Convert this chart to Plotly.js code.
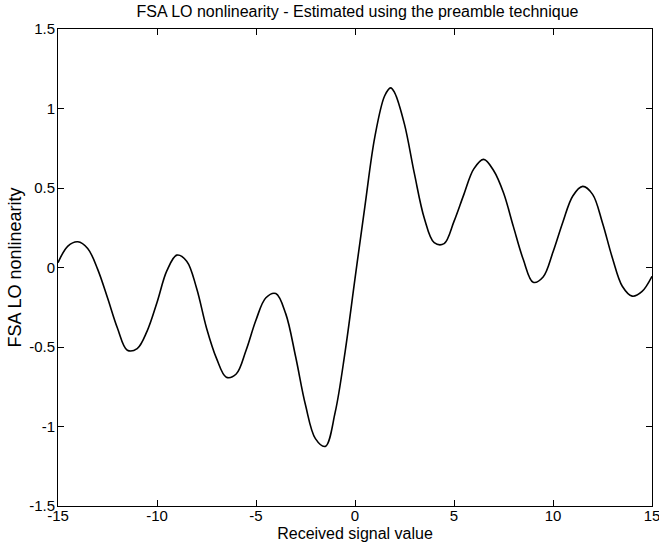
<!DOCTYPE html>
<html>
<head>
<meta charset="utf-8">
<script src="https://cdn.plot.ly/plotly-3.0.1.min.js"></script>
<style>html,body{margin:0;padding:0;background:#fff;}#chart{width:659px;height:548px;}</style>
</head>
<body>
<div id="chart"></div>
<script>
const signalValue = [-15, -14.5, -14, -13.5, -13, -12.5, -12, -11.5, -11, -10.5, -10, -9.5, -9, -8.5, -8, -7.5, -7, -6.5, -6, -5.5, -5, -4.5, -4, -3.5, -3, -2.5, -2, -1.5, -1, -0.5, 0, 0.5, 1, 1.5, 1.8, 2, 2.5, 3, 3.5, 4, 4.5, 5, 5.5, 6, 6.5, 7, 7.5, 8, 8.5, 9, 9.5, 10, 10.5, 11, 11.5, 12, 12.5, 13, 13.5, 14, 14.5, 15];
const nonlinearity = [0.03, 0.135, 0.162, 0.12, -0.01, -0.19, -0.38, -0.52, -0.51, -0.40, -0.22, -0.02, 0.078, 0.04, -0.13, -0.38, -0.57, -0.69, -0.67, -0.52, -0.33, -0.19, -0.164, -0.29, -0.56, -0.865, -1.076, -1.125, -0.91, -0.53, -0.07, 0.385, 0.82, 1.08, 1.13, 1.10, 0.90, 0.59, 0.31, 0.156, 0.15, 0.29, 0.46, 0.62, 0.68, 0.61, 0.47, 0.257, 0.05, -0.093, -0.06, 0.097, 0.286, 0.45, 0.51, 0.46, 0.28, 0.06, -0.118, -0.18, -0.15, -0.055];
const xTickVals = [-15, -10, -5, 0, 5, 10, 15];
const xTickText = ["-15", "-10", "-5", "0", "5", "10", "15"];
const yTickVals = [-1.5, -1, -0.5, 0, 0.5, 1, 1.5];
const yTickText = ["-1.5", "-1", "-0.5", "0", "0.5", "1", "1.5"];

const fam = "Liberation Sans, Arial, Helvetica, sans-serif";

Plotly.newPlot("chart", [{
  x: signalValue,
  y: nonlinearity,
  type: "scatter",
  mode: "lines",
  line: {color: "#000", width: 1.6, shape: "spline", smoothing: 1},
  hoverinfo: "skip"
}], {
  width: 659,
  height: 548,
  margin: {l: 58, r: 7, t: 29, b: 42},
  paper_bgcolor: "#fff",
  plot_bgcolor: "#fff",
  showlegend: false,
  font: {family: fam, size: 15, color: "#000"},
  title: {text: "FSA LO nonlinearity - Estimated using the preamble technique", font: {family: fam, size: 16, color: "#000"}, x: 0.5425, xanchor: "center", y: 0.979, yanchor: "middle"},
  xaxis: {
    range: [-15, 15],
    tickvals: xTickVals, ticktext: xTickText,
    ticks: "inside", ticklen: 6, tickcolor: "#000", tickwidth: 1,
    showline: true, linecolor: "#000", linewidth: 1, mirror: "ticks",
    showgrid: false, zeroline: false,
    ticklabeloverflow: "allow",
    ticklabelstandoff: -4,
    tickfont: {family: fam, size: 15, color: "#000"},
    title: {text: "Received signal value", font: {family: fam, size: 16, color: "#000"}, standoff: 4}
  },
  yaxis: {
    range: [-1.5, 1.5],
    tickvals: yTickVals, ticktext: yTickText,
    ticks: "inside", ticklen: 6, tickcolor: "#000", tickwidth: 1,
    showline: true, linecolor: "#000", linewidth: 1, mirror: "ticks",
    showgrid: false, zeroline: false,
    ticklabeloverflow: "allow",
    ticklabelstandoff: -1,
    tickfont: {family: fam, size: 15, color: "#000"},
    title: {text: "FSA LO nonlinearity", font: {family: fam, size: 18, color: "#000"}, standoff: 2}
  }
}, {staticPlot: true, displayModeBar: false});
</script>
</body>
</html>
